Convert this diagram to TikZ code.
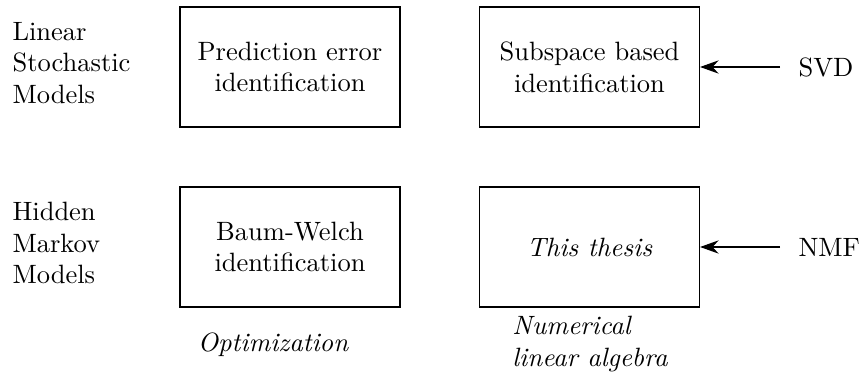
\documentclass[tikz,border=0pt]{standalone}
\usetikzlibrary{arrows.meta}
\begin{document}
\begin{tikzpicture}[x=0.3774pt,y=-0.3774pt,
  method/.style={draw,line width=0.45pt,minimum width=83pt,minimum height=45.3pt,align=center,inner sep=0pt},
  rowlabel/.style={anchor=west,align=left,inner sep=0pt},
  tool/.style={anchor=west,inner sep=6.8pt},
  feed/.style={-{Stealth[length=7pt,width=5pt]},line width=0.45pt},
  field/.style={font=\itshape,align=left,inner sep=0pt}]
  \useasboundingbox (0,0) rectangle (860,376);

  % row labels
  \node[rowlabel] (lsm) at (12,63) {Linear\\Stochastic\\Models};
  \node[rowlabel] (hmm) at (12,243) {Hidden\\Markov\\Models};

  % identification methods
  \node[method] (pe) at (290,67) {Prediction error\\identification};
  \node[method] (ss) at (589.5,67) {Subspace based\\identification};
  \node[method] (bw) at (290,247) {Baum-Welch\\identification};
  \node[method] (th) at (589.5,247) {\itshape This thesis};

  % tools feeding the right-hand column
  \node[tool] (svd) at (780,67) {SVD};
  \node[tool] (nmf) at (780,247) {NMF};
  \draw[feed] (svd.west) -- (ss.east);
  \draw[feed] (nmf.west) -- (th.east);

  % column captions
  \node[field] (opt) at (273,345) {Optimization};
  \node[field] (nla) at (590,344) {Numerical\\linear algebra};
\end{tikzpicture}
\end{document}
